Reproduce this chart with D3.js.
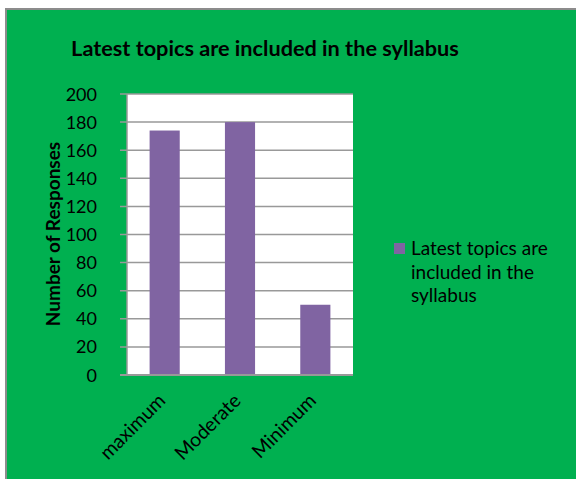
<!DOCTYPE html>
<html><head><meta charset="utf-8">
<script src="https://cdn.jsdelivr.net/npm/d3@7"></script>
<style>body{margin:0;background:#fff}svg{display:block}</style>
</head><body>
<script>
const categories = ["maximum", "Moderate", "Minimum"];
const values = [174, 180, 50];
const yTicks = [0, 20, 40, 60, 80, 100, 120, 140, 160, 180, 200];
const seriesName = "Latest topics are included in the syllabus";
const legendLines = ["Latest topics are", "included in the", "syllabus"];

(function () {
const W = 576, H = 479;
const font = "Lato, 'Open Sans', sans-serif";
const svg = d3.select("body").append("svg").attr("width", W).attr("height", H);

svg.append("rect").attr("x", 0).attr("y", 0).attr("width", W).attr("height", H).attr("fill", "#fff");
svg.append("rect").attr("x", 6).attr("y", 9).attr("width", W).attr("height", H).attr("fill", "#00B050")
  .attr("stroke", "#8c8c8c").attr("stroke-width", 2);

svg.append("text").attr("x", 265).attr("y", 56).attr("text-anchor", "middle")
  .attr("font-family", font).attr("font-weight", "bold").attr("font-size", 21.7).attr("fill", "#000")
  .text(seriesName);

const pL = 127, pR = 353, pT = 94, pB = 375;
const x = d3.scaleBand().domain(categories).range([pL, pR]).paddingInner(0.6).paddingOuter(0.3);
const y = d3.scaleLinear().domain([0, 200]).range([pB, pT]);

svg.append("rect").attr("x", pL).attr("y", pT).attr("width", pR - pL).attr("height", pB - pT).attr("fill", "#fff");

svg.append("g").selectAll("line").data(yTicks).join("line")
  .attr("x1", pL - 7).attr("x2", pR).attr("y1", d => y(d)).attr("y2", d => y(d))
  .attr("stroke", "#999").attr("stroke-width", 1.5);

svg.append("g").selectAll("rect").data(values).join("rect")
  .attr("x", (d, i) => x(categories[i])).attr("width", x.bandwidth())
  .attr("y", d => y(d)).attr("height", d => y(0) - y(d)).attr("fill", "#8064A2");

svg.append("line").attr("x1", pL).attr("x2", pL).attr("y1", pT).attr("y2", pB).attr("stroke", "#999").attr("stroke-width", 1.5);
svg.append("line").attr("x1", pL - 7).attr("x2", pR).attr("y1", pB).attr("y2", pB).attr("stroke", "#999").attr("stroke-width", 2);

svg.append("g").selectAll("text").data(yTicks).join("text")
  .attr("x", 97).attr("y", d => y(d) + 6.5).attr("text-anchor", "end")
  .attr("font-family", font).attr("font-size", 18).attr("fill", "#000").text(d => d);

svg.append("text").attr("transform", "translate(60,234) rotate(-90)").attr("text-anchor", "middle")
  .attr("font-family", font).attr("font-weight", "bold").attr("font-size", 19).attr("fill", "#000")
  .text("Number of Responses");

svg.append("g").selectAll("text").data(categories).join("text")
  .attr("transform", d => `translate(${x(d) + x.bandwidth() / 2 + 2},${pB + 27}) rotate(-45)`)
  .attr("text-anchor", "end").attr("font-family", font).attr("font-size", 19.5).attr("fill", "#000").text(d => d);

svg.append("rect").attr("x", 394).attr("y", 243).attr("width", 11).attr("height", 11).attr("fill", "#8064A2");
svg.append("g").selectAll("text").data(legendLines).join("text")
  .attr("x", 411).attr("y", (d, i) => 255 + i * 23.5)
  .attr("font-family", font).attr("font-size", 19).attr("fill", "#000").text(d => d);
})();
</script>
</body></html>
